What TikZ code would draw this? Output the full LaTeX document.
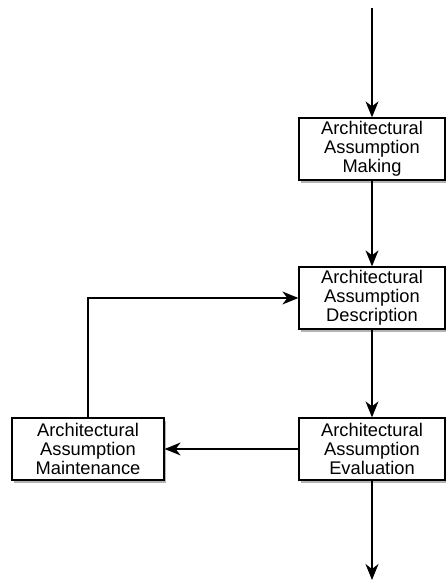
\documentclass[tikz,border=0pt]{standalone}
\usepackage{fontspec}
\setmainfont{Liberation Sans}
\usetikzlibrary{arrows.meta,shadows}

\begin{document}
\begin{tikzpicture}[x=1pt, y=1pt,
  >={Stealth[length=16pt, width=13pt, inset=5pt]},
  flow/.style={->, line width=1.2pt},
  step box/.style={draw, line width=1.3pt, fill=white, align=center,
    minimum width=146pt, minimum height=62pt, inner sep=0pt,
    font=\fontsize{18.3}{19}\selectfont,
    drop shadow={shadow xshift=1.5pt, shadow yshift=-3pt, opacity=0.6}}]
 \useasboundingbox (0,0) rectangle (446,587);

 \coordinate (start) at (372,579);
 \coordinate (finish) at (372,7);

 \node [step box] (making) at (372,438) {Architectural\\Assumption\\Making};
 \node [step box] (describe) at (372,289) {Architectural\\Assumption\\Description};
 \node [step box] (evaluate) at (372,138) {Architectural\\Assumption\\Evaluation};
 \node [step box, minimum width=152pt] (maintain) at (88,138) {Architectural\\Assumption\\Maintenance};

 \draw [flow] (start) -- (making);
 \draw [flow] (making) -- (describe);
 \draw [flow] (describe) -- (evaluate);
 \draw [flow] (evaluate) -- (finish);
 \draw [flow] (evaluate) -- (maintain);
 \draw [flow] (maintain.north) |- (describe.west);
\end{tikzpicture}
\end{document}
